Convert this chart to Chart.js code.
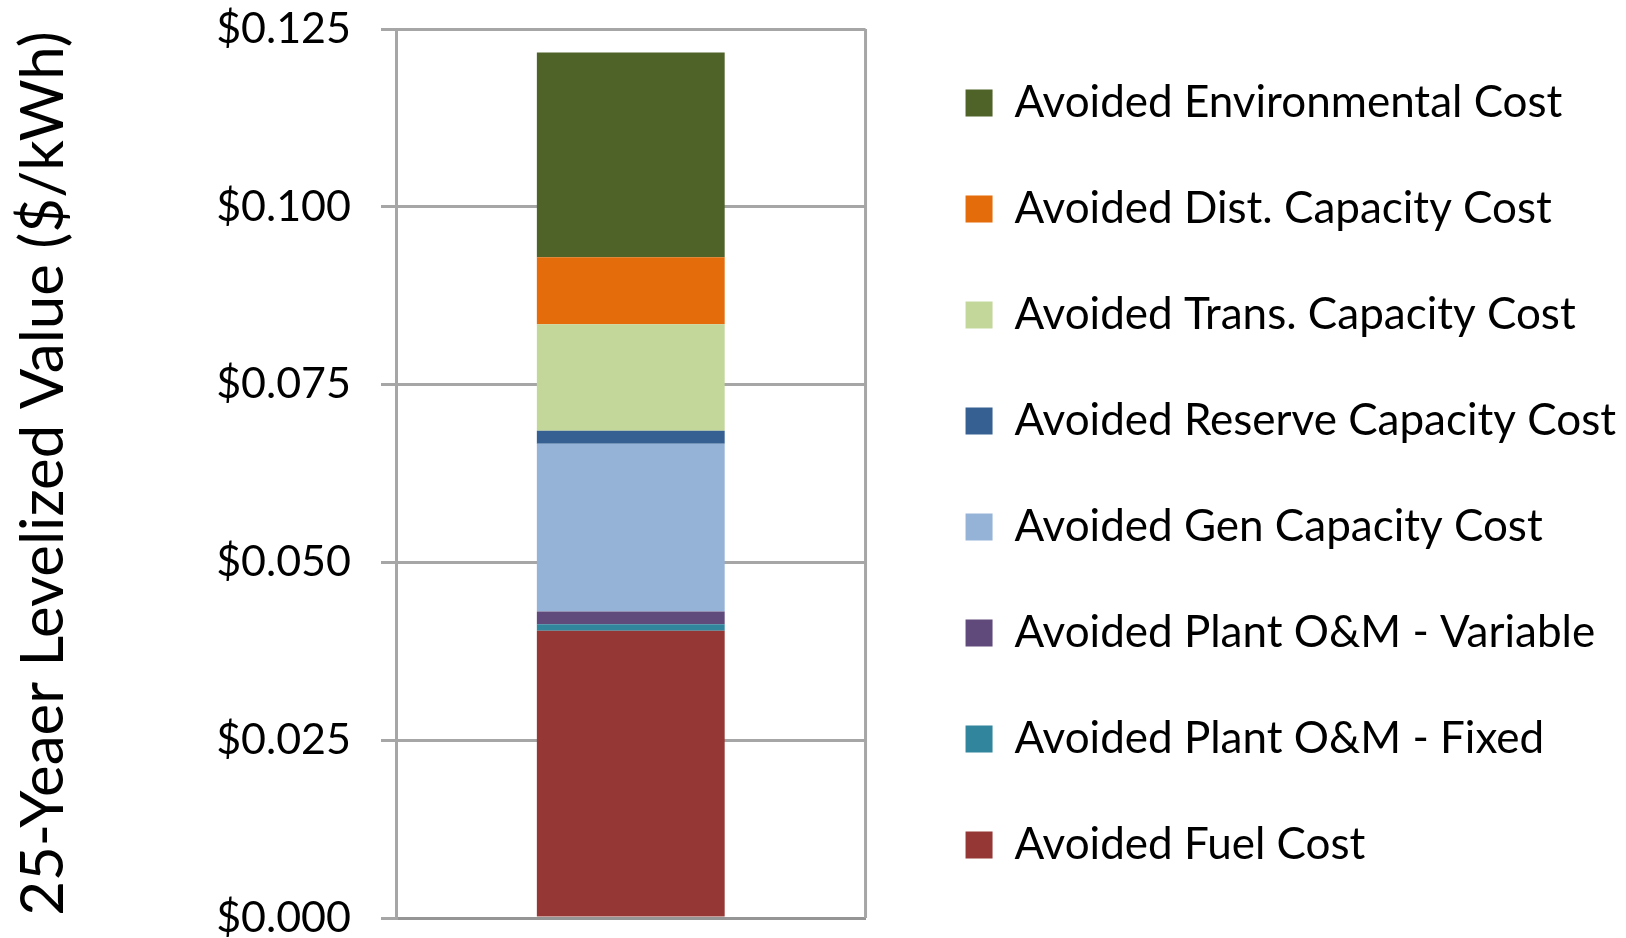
<!DOCTYPE html>
<html>
<head>
<meta charset="utf-8">
<script src="https://cdn.jsdelivr.net/npm/chart.js@4"></script>
<style>
  html, body { margin: 0; padding: 0; background: #fff; }
  #wrap { width: 1626px; height: 938px; }
</style>
</head>
<body>
<div id="wrap"><canvas id="chart" width="1626" height="938"></canvas></div>
<script>
'use strict';

const categories = [""];
const seriesNames = [
    "Avoided Fuel Cost",
    "Avoided Plant O&M - Fixed",
    "Avoided Plant O&M - Variable",
    "Avoided Gen Capacity Cost",
    "Avoided Reserve Capacity Cost",
    "Avoided Trans. Capacity Cost",
    "Avoided Dist. Capacity Cost",
    "Avoided Environmental Cost"
];
const fuel = [0.0404];
const omFixed = [0.0009];
const omVariable = [0.0018];
const genCapacity = [0.0236];
const reserveCapacity = [0.0018];
const transCapacity = [0.0150];
const distCapacity = [0.0094];
const environmental = [0.0288];
const yTicks = [0, 0.025, 0.05, 0.075, 0.1, 0.125];

const colors = ["#953735", "#31859C", "#604A7B", "#95B3D7", "#366092", "#C4D79B", "#E46C0A", "#4F6228"];
const values = [fuel, omFixed, omVariable, genCapacity, reserveCapacity, transCapacity, distCapacity, environmental];

const font = "Lato, 'Open Sans', sans-serif";
const gridGrey = "#A6A6A6";

var datasets = values.map((v, i) => ({
    label: seriesNames[i],
    data: v,
    backgroundColor: colors[i],
    borderWidth: 0,
    categoryPercentage: 1,
    barPercentage: 0.4
}));

const ctx = document.getElementById('chart').getContext('2d');
var chart = new Chart(ctx, {
    type: 'bar',
    data: { labels: categories, datasets: datasets },
    options: {
        responsive: false,
        animation: false,
        layout: { padding: { top: 10, bottom: 0, left: 0, right: 0 } },
        plugins: {
            tooltip: { enabled: false },
            legend: {
                position: 'right',
                reverse: true,
                align: 'center',
                maxWidth: 760,
                labels: {
                    boxWidth: 27,
                    boxHeight: 27,
                    padding: 62,
                    color: "#000",
                    font: { family: font, size: 44 }
                }
            }
        },
        scales: {
            x: {
                stacked: true,
                grid: { display: false, drawTicks: false },
                border: { color: "#959595", width: 3 },
                ticks: { display: false }
            },
            y: {
                stacked: true,
                min: 0,
                max: 0.125,
                afterBuildTicks: s => { s.ticks = yTicks.map(v => ({ value: v })); },
                afterFit: s => { s.width = 396; s.paddingTop = 29; s.paddingBottom = 20; },
                grid: { color: gridGrey, lineWidth: 3, tickLength: 15 },
                border: { color: gridGrey, width: 3 },
                ticks: {
                    color: "#000",
                    padding: 30,
                    font: { family: font, size: 43 },
                    callback: v => "$" + v.toFixed(3)
                },
                title: {
                    display: true,
                    text: "25-Yeaer Levelized Value ($/kWh)",
                    color: "#000",
                    font: { family: font, size: 60 },
                    padding: { top: 8, bottom: 0 }
                }
            },
            spacer: {
                type: 'linear',
                position: 'right',
                display: true,
                grid: { display: false, drawTicks: false },
                border: { display: false },
                ticks: { display: false },
                afterFit: s => { s.width = 38; }
            }
        }
    },
    plugins: [{
        id: 'rightBorder',
        afterDraw(c) {
            const a = c.chartArea, g = c.ctx;
            g.save();
            g.strokeStyle = gridGrey;
            g.lineWidth = 3;
            g.beginPath();
            g.moveTo(a.right, a.top);
            g.lineTo(a.right, a.bottom);
            g.stroke();
            g.restore();
        }
    }]
});
</script>
</body>
</html>
